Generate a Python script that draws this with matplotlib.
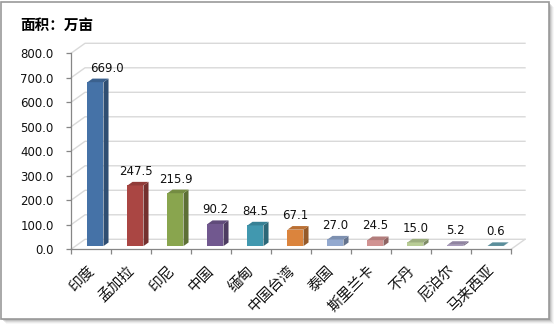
import matplotlib.pyplot as plt
from matplotlib.patches import Rectangle, Polygon
import matplotlib.colors as mcolors

plt.rcParams['font.family'] = ['DejaVu Sans', 'Noto Sans CJK SC']

# 面积（万亩）
regions = ['印度', '孟加拉', '印尼', '中国', '缅甸', '中国台湾', '泰国', '斯里兰卡', '不丹', '尼泊尔', '马来西亚']
areas = [669.0, 247.5, 215.9, 90.2, 84.5, 67.1, 27.0, 24.5, 15.0, 5.2, 0.6]
colors = ['#4572A7', '#AA4643', '#89A54E', '#71588F', '#4198AF', '#DB843D',
          '#93A9CF', '#D19392', '#B9CD96', '#A99BBD', '#6BA7B6']
y_ticks = [0, 100, 200, 300, 400, 500, 600, 700, 800]

W, H = 556, 326
fig = plt.figure(figsize=(W / 100, H / 100), dpi=100)
fig.patch.set_facecolor('white')


def fx(px):
    return px / W


def fy(py):
    return 1 - py / H


# chart frame with drop shadow
for k, a in zip(range(5, 0, -1), [0.06, 0.1, 0.16, 0.25, 0.4]):
    fig.patches.append(Rectangle((fx(1 + k), fy(319 + k)), fx(548), 317 / H,
                                 transform=fig.transFigure, facecolor='#808080',
                                 edgecolor='none', alpha=a, zorder=-3))
fig.patches.append(Rectangle((fx(1), fy(319)), fx(548), 317 / H,
                             transform=fig.transFigure, facecolor='white',
                             edgecolor='#9a9a9a', linewidth=1.2, zorder=-2))

# plot area: x in category units (40 px each), y in value units
x0_px, x1_px, ytop_px, y0_px = 71, 535, 40, 249.3
px_per_val = (249.3 - 53.3) / 800
ax = fig.add_axes([fx(x0_px), fy(y0_px), fx(x1_px - x0_px), (y0_px - ytop_px) / H])
ax.set_zorder(1)
ax.set_xlim(-0.5, -0.5 + (x1_px - x0_px) / 40)
ax.set_ylim(0, (y0_px - ytop_px) / px_per_val)
ax.patch.set_visible(False)
for s in ['top', 'right']:
    ax.spines[s].set_visible(False)
for s in ['left', 'bottom']:
    ax.spines[s].set_color('#868686')
    ax.spines[s].set_linewidth(0.9)
n = len(regions)
ax.spines['bottom'].set_bounds(-0.5, n - 0.5)
ax.spines['left'].set_bounds(0, 800)

ax.set_yticks(y_ticks)
ax.set_yticklabels([f'{v:.1f}' for v in y_ticks])
ax.set_xticks([i - 0.5 for i in range(n + 1)])
ax.set_xticklabels([])
ax.tick_params(axis='y', direction='out', length=3.5, width=0.9, color='#868686',
               pad=9.0, labelsize=8.5, labelcolor='#111111')
ax.tick_params(axis='x', direction='out', length=3.6, width=0.9, color='#868686')

# depth of the 3D box
DX = 14 / 40
DY = 10 / px_per_val
f1, f2 = 0.32, 0.68
grid_c = '#d9d9d9'

for v in y_ticks:
    ax.plot([-0.5, -0.5 + DX, n - 0.5 + DX], [v, v + DY, v + DY],
            color=grid_c, lw=1.0, zorder=1, clip_on=False)
ax.plot([n - 0.5, n - 0.5 + DX], [0, DY], color=grid_c, lw=1.0, zorder=1, clip_on=False)


def shade(c, k):
    r, g, b = mcolors.to_rgb(c)
    return (r * k, g * k, b * k)


hw = 0.2
for i, (v, c) in enumerate(zip(areas, colors)):
    xl = i - hw + f1 * DX
    xr = i + hw + f1 * DX
    yb = f1 * DY
    ax.add_patch(Rectangle((xl, yb), 2 * hw, v, facecolor=c, edgecolor='none',
                           zorder=3, clip_on=False))
    side = [(xr, yb), (xr + (f2 - f1) * DX, f2 * DY),
            (xr + (f2 - f1) * DX, v + f2 * DY), (xr, v + yb)]
    ax.add_patch(Polygon(side, closed=True, facecolor=shade(c, 0.68),
                         edgecolor='none', zorder=3, clip_on=False))
    top = [(xl, v + yb), (xr, v + yb), (xr + (f2 - f1) * DX, v + f2 * DY),
           (xl + (f2 - f1) * DX, v + f2 * DY)]
    ax.add_patch(Polygon(top, closed=True, facecolor=shade(c, 0.85),
                         edgecolor='none', zorder=3, clip_on=False))
    nudge = 11 if i == 0 else 0
    ax.annotate(f'{v:.1f}', (i + f1 * DX, v + f2 * DY), xytext=(nudge, 7),
                textcoords='offset pixels', ha='center', va='baseline',
                fontsize=8.5, color='#111111', zorder=5, annotation_clip=False)

for i, name in enumerate(regions):
    ax.annotate(name, (i, 0), xytext=(1, -19), textcoords='offset pixels',
                rotation=45, rotation_mode='anchor', ha='right', va='center',
                fontsize=10.5, family=['Noto Sans CJK SC'], color='#111111',
                annotation_clip=False)

fig.text(fx(20), fy(25), '面积：万亩', fontsize=10.5, fontweight='bold',
         family=['Noto Sans CJK SC'], ha='left', va='center', color='#000000')

fig.savefig('out.png', dpi=100)
